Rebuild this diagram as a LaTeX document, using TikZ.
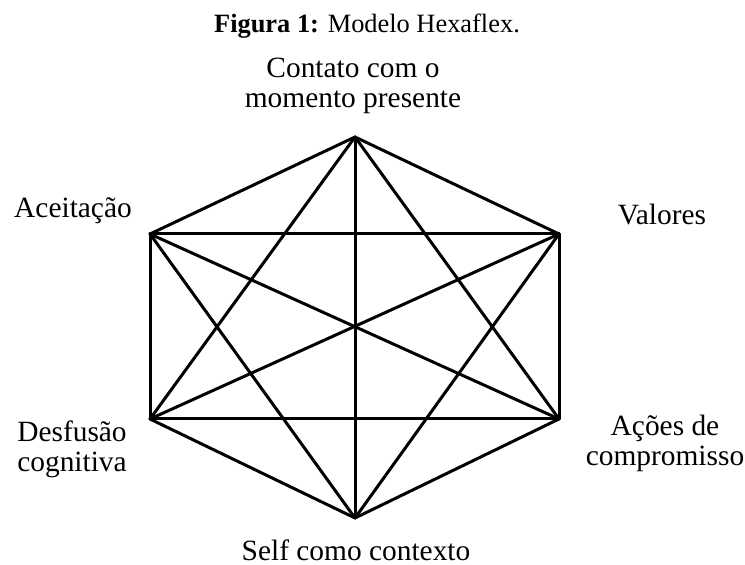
\documentclass[tikz,border=0pt]{standalone}
\usepackage{fontspec}
\setmainfont{Liberation Serif}
\usepackage{tikz}
\usetikzlibrary{shapes, arrows}
\tikzstyle{label} = [inner sep=0pt, align=center, anchor=base,
    font=\fontsize{14.7}{15.3}\selectfont]
\tikzstyle{caption} = [inner sep=0pt, anchor=base, font=\fontsize{13.2}{15}\selectfont]
\tikzstyle{line} = [draw, line width=1.5pt, line cap=round]

\begin{document}
\begin{tikzpicture}[x=0.5pt, y=-0.5pt]
        \useasboundingbox (0,0) rectangle (745,565);
        % Place vertices
        \coordinate (contato) at (355,137);
        \coordinate (aceitacao) at (150,234);
        \coordinate (valores) at (559,234);
        \coordinate (desfusao) at (150,419);
        \coordinate (acoes) at (559,419);
        \coordinate (self) at (355,518);
        % Label nodes
        \node [caption] (title) at (367,33) {\textbf{Figura 1:} Modelo Hexaflex.};
        \node [label] (contato_txt) at (353,108) {Contato com o\\momento presente};
        \node [label] (aceitacao_txt) at (73,218) {Aceitação};
        \node [label] (valores_txt) at (662,225) {Valores};
        \node [label] (desfusao_txt) at (72,472) {Desfusão\\cognitiva};
        \node [label] (acoes_txt) at (665,466) {Ações de\\compromisso};
        \node [label] (self_txt) at (356,561) {Self como contexto};
        % Draw edges
        \path [line] (contato) -- (aceitacao);
        \path [line] (contato) -- (valores);
        \path [line] (contato) -- (desfusao);
        \path [line] (contato) -- (acoes);
        \path [line] (contato) -- (self);
        \path [line] (aceitacao) -- (valores);
        \path [line] (aceitacao) -- (desfusao);
        \path [line] (aceitacao) -- (acoes);
        \path [line] (aceitacao) -- (self);
        \path [line] (valores) -- (desfusao);
        \path [line] (valores) -- (acoes);
        \path [line] (valores) -- (self);
        \path [line] (desfusao) -- (acoes);
        \path [line] (desfusao) -- (self);
        \path [line] (acoes) -- (self);
    \end{tikzpicture}
\end{document}
